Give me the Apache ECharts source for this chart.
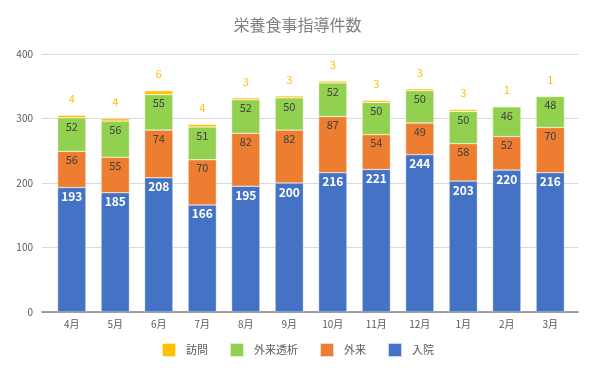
<!DOCTYPE html>
<html><head><meta charset="utf-8">
<script src="https://cdn.jsdelivr.net/npm/echarts@6/dist/echarts.min.js"></script>
<style>html,body{margin:0;padding:0;background:#fff}#c{width:595px;height:373px}</style>
</head><body><div id="c"></div>
<script>
const months = ['4月','5月','6月','7月','8月','9月','10月','11月','12月','1月','2月','3月'];
const inpatient = [193,185,208,166,195,200,216,221,244,203,220,216];
const outpatient = [56,55,74,70,82,82,87,54,49,58,52,70];
const dialysis = [52,56,55,51,52,50,52,50,50,50,46,48];
const visit = [4,4,6,4,3,3,3,3,3,3,1,1];
const yTicks = [0,100,200,300,400];

const font = '"Noto Sans CJK JP", "Noto Sans", sans-serif';
const seg = {borderColor:'rgba(255,255,255,0.7)', borderWidth:0.5};
const chart = echarts.init(document.getElementById('c'), null, {renderer:'canvas'});
chart.setOption({
  animation:false,
  textStyle:{fontFamily:font},
  title:{text:'栄養食事指導件数', left:'center', top:12, textStyle:{fontSize:16, fontWeight:'normal', color:'#7f7f7f', fontFamily:font}},
  grid:[
    {left:42, right:17, top:54, bottom:61},
    {left:50, right:23, top:54, bottom:61}
  ],
  legend:{bottom:10, left:'center', itemWidth:14, itemHeight:14, itemGap:21, icon:'rect',
    textStyle:{fontSize:11, color:'#595959', padding:[0,0,0,5]},
    data:['訪問','外来透析','外来','入院']},
  xAxis:[
    {type:'category', gridIndex:0, data:months, axisLine:{lineStyle:{color:'#808080', width:1.5}},
      axisTick:{show:false}, axisLabel:{show:false}},
    {type:'category', gridIndex:1, data:months, axisLine:{show:false},
      axisTick:{show:false}, axisLabel:{color:'#595959', fontSize:10, margin:7}}
  ],
  yAxis:[
    {type:'value', gridIndex:0, min:yTicks[0], max:yTicks[yTicks.length-1], interval:100,
      axisLabel:{color:'#595959', fontSize:10, margin:9}, splitLine:{lineStyle:{color:'#d9d9d9'}}},
    {type:'value', gridIndex:1, min:yTicks[0], max:yTicks[yTicks.length-1], interval:100, show:false,
      splitLine:{show:false}}
  ],
  series:[
    {name:'入院', type:'bar', stack:'a', xAxisIndex:1, yAxisIndex:1, data:inpatient, barWidth:'65%',
      itemStyle:Object.assign({color:'#4472C4'}, seg),
      label:{show:true, position:'insideTop', distance:3, color:'#fff', fontWeight:'bold', fontSize:12}},
    {name:'外来', type:'bar', stack:'a', xAxisIndex:1, yAxisIndex:1, data:outpatient,
      itemStyle:Object.assign({color:'#ED7D31'}, seg),
      label:{show:true, position:'insideTop', distance:3, color:'#404040', fontSize:11}},
    {name:'外来透析', type:'bar', stack:'a', xAxisIndex:1, yAxisIndex:1, data:dialysis,
      itemStyle:Object.assign({color:'#92D050'}, seg),
      label:{show:true, position:'insideTop', distance:3, color:'#404040', fontSize:11}},
    {name:'訪問', type:'bar', stack:'a', xAxisIndex:1, yAxisIndex:1, data:visit,
      itemStyle:Object.assign({color:'#FFC000'}, seg),
      label:{show:true, position:'top', distance:11, color:'#FFC000', fontSize:11}}
  ]
});
</script></body></html>
